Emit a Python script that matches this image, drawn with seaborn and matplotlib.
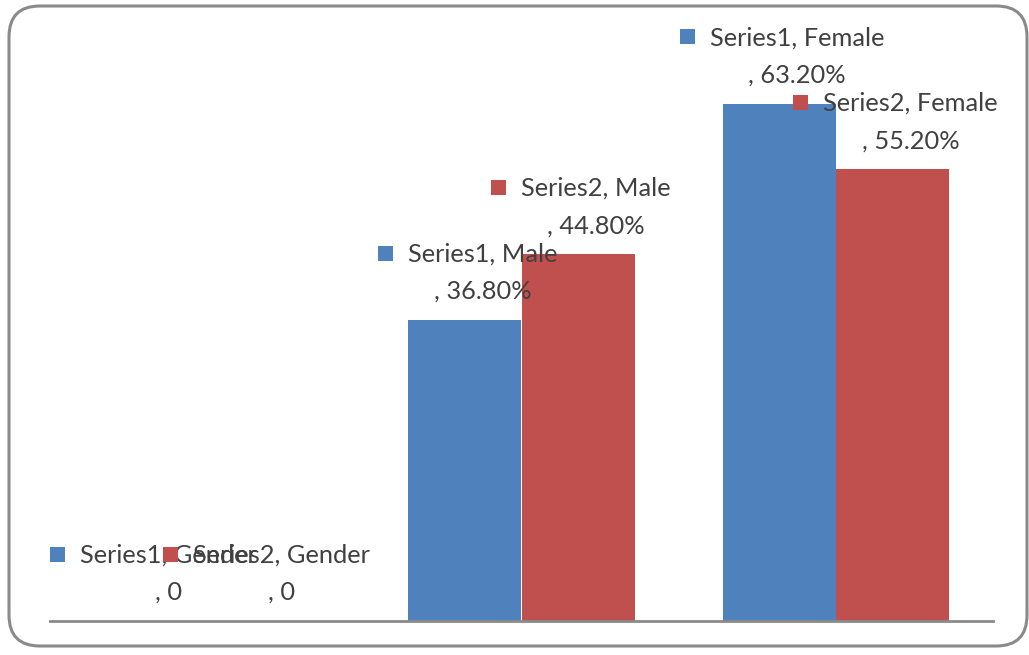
import matplotlib
matplotlib.use("Agg")
import matplotlib.pyplot as plt
from matplotlib.patches import FancyBboxPatch, Rectangle
from matplotlib.offsetbox import AnnotationBbox, DrawingArea, HPacker, TextArea
import seaborn as sns
import pandas as pd

categories = ["Gender", "Male", "Female"]
series_names = ["Series1", "Series2"]
series1 = [0, 36.8, 63.2]
series2 = [0, 44.8, 55.2]
colors = ["#4F81BD", "#C0504D"]

df = pd.DataFrame({
    "category": categories * 2,
    "series": [series_names[0]] * 3 + [series_names[1]] * 3,
    "value": series1 + series2,
})

sns.set_style("white")
plt.rcParams["font.family"] = ["Lato", "DejaVu Sans"]

W, H = 1029, 655
DPI = 100
PX = 72 / DPI  # points per pixel
fig = plt.figure(figsize=(W / DPI, H / DPI), dpi=DPI)

# rounded outer frame
frame = FancyBboxPatch((9 / W, 9 / H), 1018 / W, 640 / H,
                       boxstyle="round,pad=0,rounding_size=0.03",
                       transform=fig.transFigure, facecolor="none",
                       edgecolor="#8a8a8a", linewidth=2.2, zorder=-1,
                       mutation_aspect=W / H)
fig.patches.append(frame)

ax = fig.add_axes([50 / W, 34 / H, 943 / W, 573 / H])
ax.patch.set_alpha(0)

sns.barplot(data=df, x="category", y="value", hue="series", order=categories,
            hue_order=series_names, palette=colors, width=0.72, gap=0,
            saturation=1, linewidth=0, ax=ax, legend=False)

ax.set_xlim(-0.5, 2.5)
ax.set_ylim(0, 70)
for side in ["left", "right", "top"]:
    ax.spines[side].set_visible(False)
ax.spines["bottom"].set_color("#8a8a8a")
ax.spines["bottom"].set_linewidth(2)
ax.set_xticks([])
ax.set_yticks([])
ax.set_xlabel("")
ax.set_ylabel("")


def fmt(v):
    return f"{v:.2f}%" if v else "0"


# data labels: colored square key + two-line centered text above each bar
bars = ax.patches
for s_idx, (name, vals) in enumerate(zip(series_names, [series1, series2])):
    for c_idx, (cat, v) in enumerate(zip(categories, vals)):
        bar = bars[s_idx * len(categories) + c_idx]
        xc = bar.get_x() + bar.get_width() / 2
        key = DrawingArea(15 * PX, 24 * PX, 0, 0)
        key.add_artist(Rectangle((0, 6 * PX), 15 * PX, 15 * PX,
                                 facecolor=colors[s_idx], edgecolor="none"))
        txt = TextArea(f"{name}, {cat}\n, {fmt(v)}",
                       textprops=dict(fontsize=18.3, color="#404040",
                                      multialignment="center",
                                      linespacing=1.75))
        box = HPacker(children=[key, txt], align="top", pad=0, sep=15 * PX)
        ab = AnnotationBbox(box, (xc, v), xybox=(3, 17),
                            xycoords="data", boxcoords="offset pixels",
                            box_alignment=(0.5, 0), frameon=False,
                            annotation_clip=False)
        ax.add_artist(ab)

fig.savefig("out.png", dpi=DPI)
